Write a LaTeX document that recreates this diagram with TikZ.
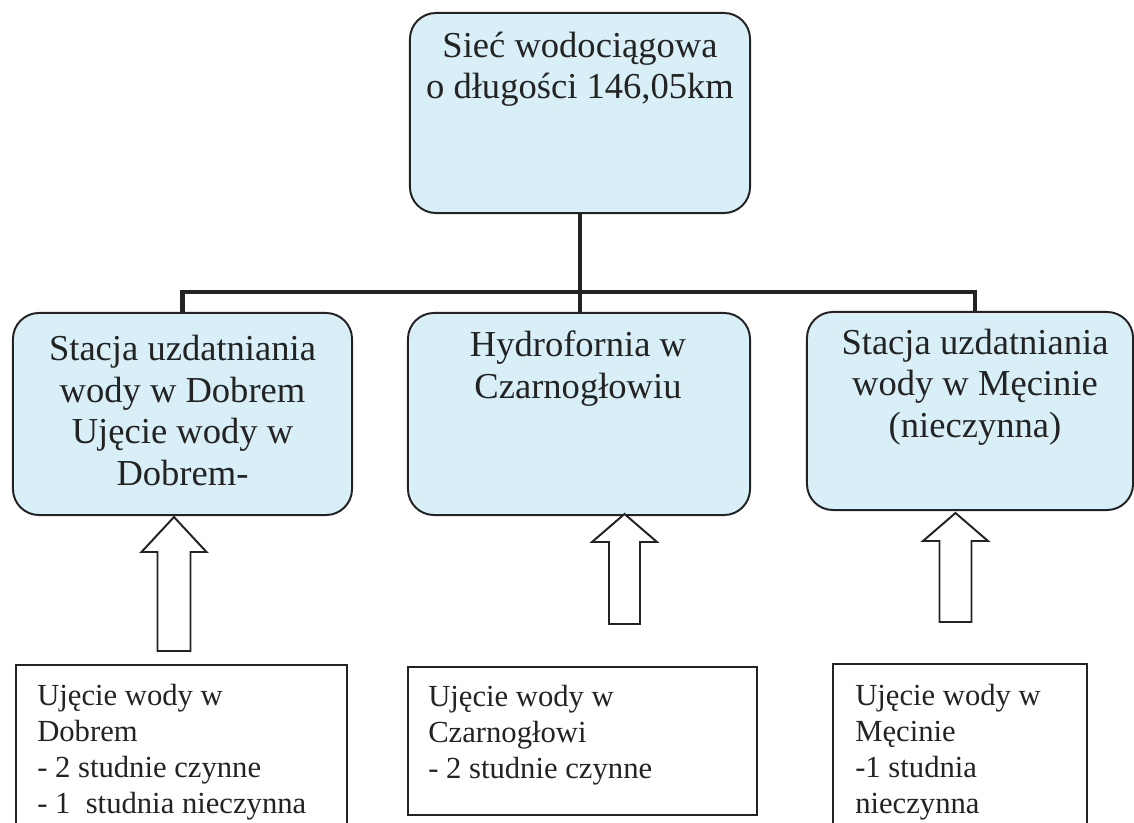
\documentclass[tikz,border=0pt]{standalone}
\usepackage{fontspec}
\setmainfont{Liberation Serif}
\usetikzlibrary{calc}
\definecolor{boxfill}{RGB}{217,239,248}
\definecolor{ink}{RGB}{35,35,35}
\newcommand\blockarrow[6]{%
  \draw[arrowline] (#1,#2) -- (#1+#4,#3) -- (#1+#5,#3) -- (#1+#5,#6)
    -- (#1-#5,#6) -- (#1-#5,#3) -- (#1-#4,#3) -- cycle;}
\begin{document}
\begin{tikzpicture}[x=0.025cm,y=-0.025cm,
  rbox/.style={draw=ink, fill=boxfill, line width=1.4pt, rounded corners=0.65cm, inner sep=0pt, outer sep=0pt},
  sbox/.style={draw=ink, line width=1.3pt, inner sep=0pt, outer sep=0pt},
  conn/.style={draw=ink, line width=2.9pt},
  arrowline/.style={draw=ink, fill=white, line width=1.4pt, line join=miter},
  toptext/.style={font=\fontsize{26pt}{29.1pt}\selectfont, text=ink, align=center, inner sep=0pt},
  midtext/.style={font=\fontsize{26pt}{29.5pt}\selectfont, text=ink, align=center, inner sep=0pt},
  smalltext/.style={font=\fontsize{21.8pt}{25.6pt}\selectfont, text=ink, align=left, inner sep=0pt}]
\useasboundingbox (0,0) rectangle (1134,823);
\fill[white] (0,0) rectangle (1134,823);
\clip (0,0) rectangle (1134,823);

% top box
\node[rbox, minimum width=8.5cm, minimum height=5cm] (top) at (580,113) {};
\node[toptext, anchor=base] (topT) at (580,98) {Sieć wodociągowa\\o długości 146,05km};

% middle row
\node[rbox, minimum width=8.475cm, minimum height=5.05cm] (left) at (182.5,414) {};
\node[midtext, anchor=base] (leftT) at (182.5,485) {Stacja uzdatniania\\wody w Dobrem\\Ujęcie wody w\\Dobrem-};
\node[rbox, minimum width=8.55cm, minimum height=5.05cm] (mid) at (579,414) {};
\node[midtext, anchor=base] (midT) at (578,398) {Hydrofornia w\\Czarnogłowiu};
\node[rbox, minimum width=8.15cm, minimum height=4.95cm] (right) at (970,411) {};
\node[midtext, anchor=base] (rightT) at (975,437) {Stacja uzdatniania\\wody w Męcinie\\(nieczynna)};

% connectors
\coordinate (bus) at (580,292);
\draw[conn] (top.south) -- (top.south |- mid.north);
\draw[conn] (left.north) |- (bus) -| ([xshift=0.125cm]right.north);

% bottom boxes
\node[sbox, minimum width=8.275cm, minimum height=4.375cm] (bl) at (181.5,752.5) {};
\node[smalltext, anchor=base west] (blT) at (37,813) {Ujęcie wody w\\Dobrem\\- 2 studnie czynne\\- 1\ \ studnia nieczynna};
\node[sbox, minimum width=8.725cm, minimum height=3.7cm] (bm) at (582.5,741) {};
\node[smalltext, anchor=base west] (bmT) at (428,778) {Ujęcie wody w\\Czarnogłowi\\- 2 studnie czynne};
\node[sbox, minimum width=6.35cm, minimum height=4.4cm] (br) at (960,752) {};
\node[smalltext, anchor=base west] (brT) at (855,813) {Ujęcie wody w\\Męcinie\\-1 studnia\\nieczynna};

% block arrows
\blockarrow{174}{517}{552}{32.5}{16.5}{651}
\blockarrow{624.5}{514}{542}{32.5}{15.5}{624}
\blockarrow{955.5}{513}{541}{32.5}{16}{622}
\end{tikzpicture}
\end{document}
